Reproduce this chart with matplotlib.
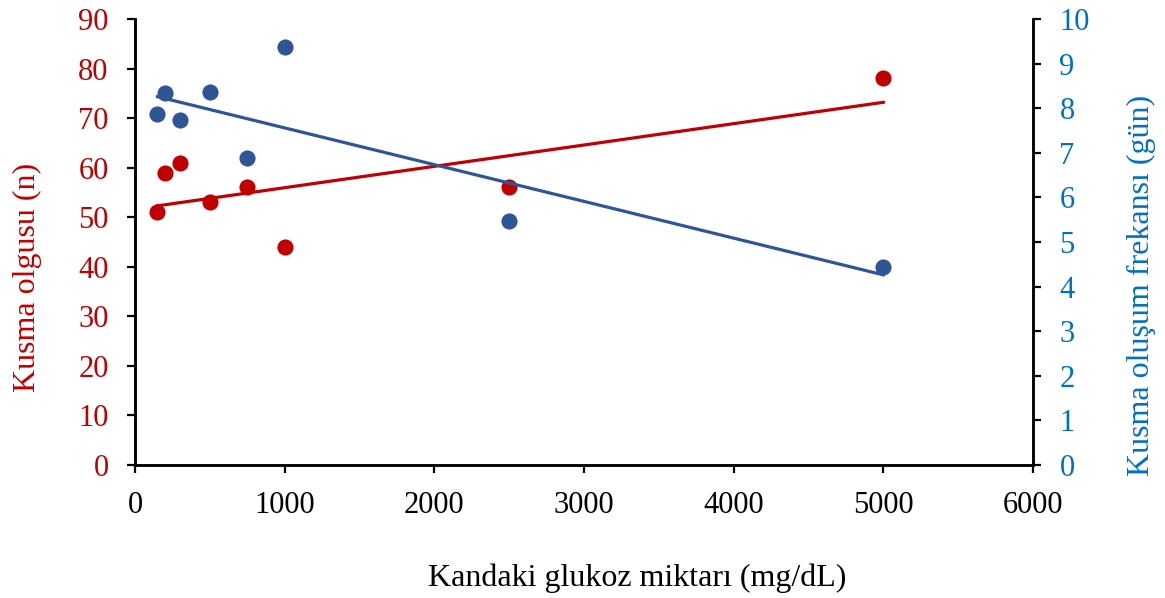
import matplotlib
matplotlib.use("Agg")
import matplotlib.pyplot as plt
import numpy as np

# blood glucose (mg/dL)
glukoz = [150, 200, 300, 500, 750, 1000, 2500, 5000]
# vomiting cases (n) - left axis
kusma_olgusu = [51, 59, 61, 53, 56, 44, 56, 78]
# vomiting frequency (days) - right axis
kusma_frekansi = [7.86, 8.35, 7.74, 8.37, 6.88, 9.37, 5.47, 4.45]

red = "#C00000"
blue = "#2F5597"
blue_txt = "#0070C0"

plt.rcParams["font.family"] = ["Liberation Serif", "DejaVu Serif"]

fig = plt.figure(figsize=(11.65, 5.98), dpi=100)
ax = fig.add_axes([135 / 1165, 133 / 598, 898 / 1165, 446 / 598])
ax2 = ax.twinx()

x = np.array(glukoz)
xs = np.array([min(glukoz), max(glukoz)])

ax.scatter(glukoz, kusma_olgusu, s=135, color=red, zorder=3, linewidths=0)
p = np.polyfit(x, kusma_olgusu, 1)
ax.plot(xs, np.polyval(p, xs), color=red, lw=2.3, zorder=2)

ax2.scatter(glukoz, kusma_frekansi, s=135, color=blue, zorder=3, linewidths=0)
p2 = np.polyfit(x, kusma_frekansi, 1)
ax2.plot(xs, np.polyval(p2, xs), color=blue, lw=2.3, zorder=2)

ax.set_xlim(0, 6000)
ax.set_ylim(0, 90)
ax2.set_ylim(0, 10)
ax.set_xticks(range(0, 6001, 1000))
ax.set_yticks(range(0, 91, 10))
ax2.set_yticks(range(0, 11, 1))

for a in (ax, ax2):
    a.spines["top"].set_visible(False)
    for s in ("left", "right", "bottom"):
        a.spines[s].set_linewidth(1.8)
        a.spines[s].set_color("black")
    a.tick_params(direction="out", length=6, width=1.6, labelsize=22, pad=13)

ax.tick_params(axis="y", labelcolor=red)
ax2.tick_params(axis="y", labelcolor=blue_txt)

ax.set_xlabel("Kandaki glukoz miktarı (mg/dL)", fontsize=23)
ax.set_ylabel("Kusma olgusu (n)", fontsize=23, color=red)
ax2.set_ylabel("Kusma oluşum frekansı (gün)", fontsize=23, color=blue_txt)
ax.xaxis.set_label_coords(0.559, -0.253)
ax.yaxis.set_label_coords(-0.1203, 0.4215)
ax2.yaxis.set_label_coords(1.1203, 0.4036)
ax.xaxis.label.set_va("center")
ax.yaxis.label.set_va("center")
ax2.yaxis.label.set_va("center")

fig.savefig("out.png", dpi=100)
